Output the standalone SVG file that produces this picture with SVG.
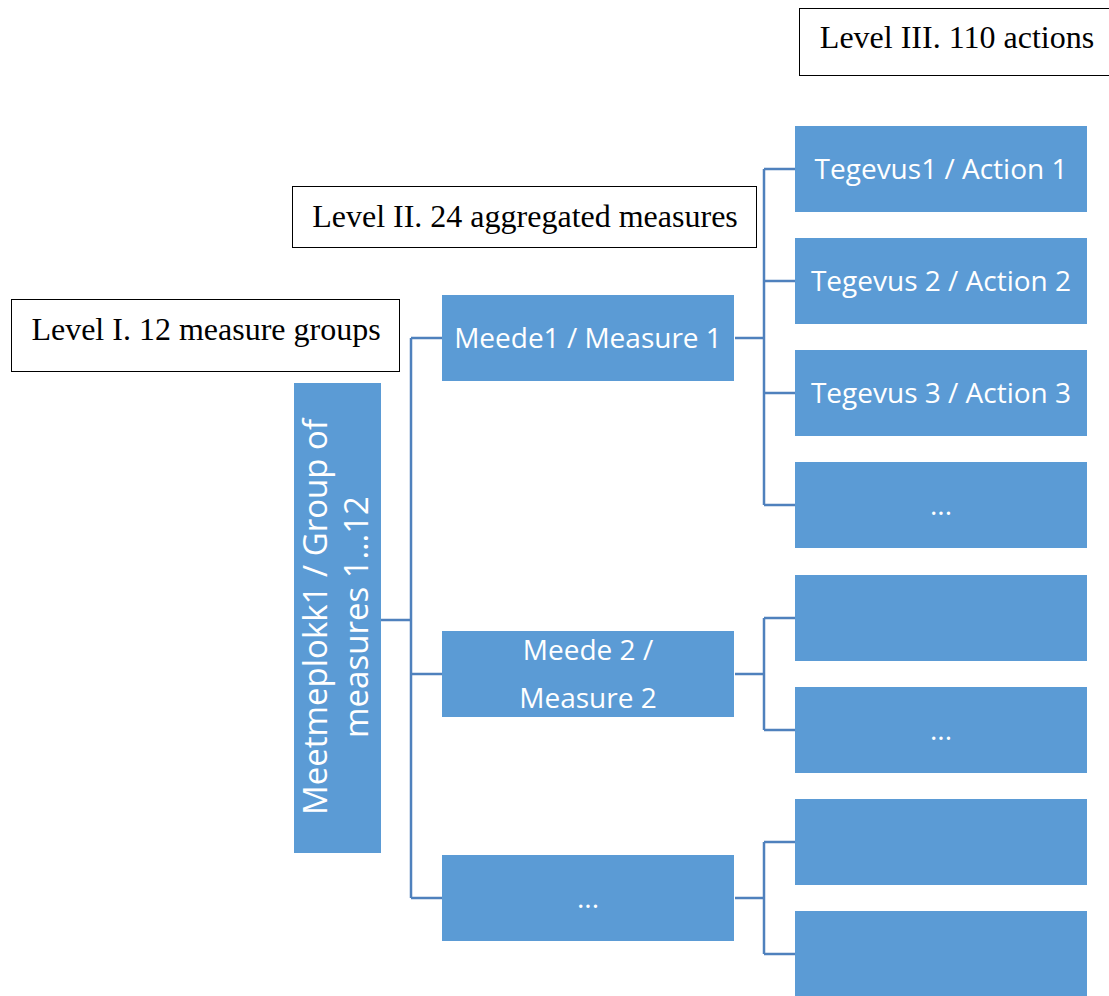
<svg xmlns="http://www.w3.org/2000/svg" width="1109" height="996" viewBox="0 0 1109 996">
<style>
.n{fill:#5B9BD5}
.t{font-family:"Open Sans","Liberation Sans",sans-serif;font-size:28px;fill:#ffffff;text-anchor:middle}
.v{font-size:33px}
.lb{fill:#ffffff;stroke:#000000;stroke-width:1}
.lt{font-family:"Liberation Serif","Times New Roman",serif;font-size:32px;fill:#000000;text-anchor:middle}
.c{fill:none;stroke:#4F81BD;stroke-width:2.5}
</style>
<rect width="1109" height="996" fill="#ffffff"/>
<g id="label3"><rect class="lb" x="799.500" y="8.500" width="320" height="67"/><text class="lt" x="957" y="48">Level III. 110 actions</text></g>
<g id="label2"><rect class="lb" x="292.500" y="186.500" width="464" height="61"/><text class="lt" x="525" y="227">Level II. 24 aggregated measures</text></g>
<g id="label1"><rect class="lb" x="11.500" y="299.500" width="388" height="72"/><text class="lt" x="206" y="340">Level I. 12 measure groups</text></g>
<g id="connectors">
<path class="c" d="M381 620H411M411 338V898M411 338H442M411 674H442M411 898H442"/>
<path class="c" d="M735 338H764M764 169V505M764 169H795M764 281H795M764 393H795M764 505H795"/>
<path class="c" d="M735 674H764M764 618V730M764 618H795M764 730H795"/>
<path class="c" d="M735 898H764M764 842V954M764 842H795M764 954H795"/>
</g>
<g id="group1"><rect class="n" x="294" y="383" width="87" height="470"/>
<text class="t v" transform="translate(337,617) rotate(-90)"><tspan x="0" y="-10">Meetmeplokk1 / Group of</tspan><tspan x="0" y="31">measures 1…12</tspan></text></g>
<g id="measure1"><rect class="n" x="442" y="295" width="292" height="86"/><text class="t" x="588" y="348">Meede1 / Measure 1</text></g>
<g id="measure2"><rect class="n" x="442" y="631" width="292" height="86"/><text class="t" x="588" y="660">Meede 2 /</text><text class="t" x="588" y="708">Measure 2</text></g>
<g id="measure3"><rect class="n" x="442" y="855" width="292" height="86"/><text class="t" x="588" y="908">...</text></g>
<g id="action1"><rect class="n" x="795" y="126" width="292" height="86"/><text class="t" x="941" y="179">Tegevus1 / Action 1</text></g>
<g id="action2"><rect class="n" x="795" y="238" width="292" height="86"/><text class="t" x="941" y="291">Tegevus 2 / Action 2</text></g>
<g id="action3"><rect class="n" x="795" y="350" width="292" height="86"/><text class="t" x="941" y="403">Tegevus 3 / Action 3</text></g>
<g id="action4"><rect class="n" x="795" y="462" width="292" height="86"/><text class="t" x="941" y="515">...</text></g>
<g id="action5"><rect class="n" x="795" y="575" width="292" height="86"/></g>
<g id="action6"><rect class="n" x="795" y="687" width="292" height="86"/><text class="t" x="941" y="740">...</text></g>
<g id="action7"><rect class="n" x="795" y="799" width="292" height="86"/></g>
<g id="action8"><rect class="n" x="795" y="911" width="292" height="86"/></g>
</svg>
